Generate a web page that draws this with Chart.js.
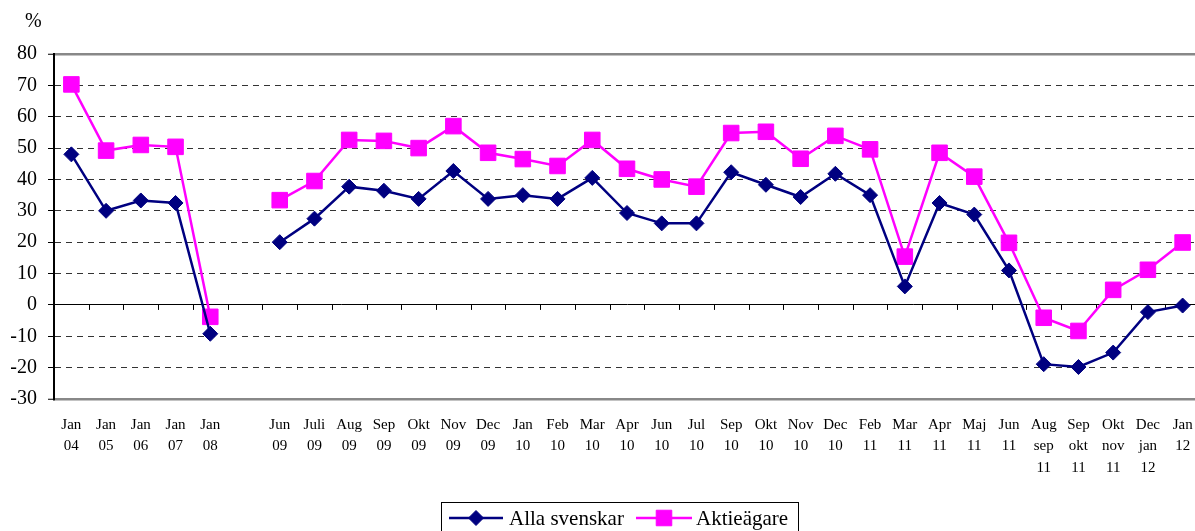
<!DOCTYPE html>
<html>
<head>
<meta charset="utf-8">
<script src="https://cdn.jsdelivr.net/npm/chart.js@4"></script>
<style>
  html, body { margin: 0; padding: 0; background: #fff; overflow: hidden; }
  #wrap { width: 1212px; height: 531px; }
</style>
</head>
<body>
<div id="wrap"><canvas id="chart" width="1212" height="531"></canvas></div>
<script>
const categories = [
    ['Jan', '04'], ['Jan', '05'], ['Jan', '06'], ['Jan', '07'], ['Jan', '08'], '',
    ['Jun', '09'], ['Juli', '09'], ['Aug', '09'], ['Sep', '09'], ['Okt', '09'], ['Nov', '09'], ['Dec', '09'],
    ['Jan', '10'], ['Feb', '10'], ['Mar', '10'], ['Apr', '10'], ['Jun', '10'], ['Jul', '10'], ['Sep', '10'],
    ['Okt', '10'], ['Nov', '10'], ['Dec', '10'], ['Feb', '11'], ['Mar', '11'], ['Apr', '11'], ['Maj', '11'],
    ['Jun', '11'], ['Aug', 'sep', '11'], ['Sep', 'okt', '11'], ['Okt', 'nov', '11'], ['Dec', 'jan', '12'], ['Jan', '12']
];

const allaSvenskar = [
    48, 30, 33.3, 32.5, -9.2, null,
    20, 27.5, 37.7, 36.4, 33.8, 42.7, 33.8,
    35, 33.8, 40.5, 29.3, 26, 26, 42.3,
    38.3, 34.4, 41.8, 35, 5.9, 32.5, 28.8,
    11, -18.9, -19.8, -15.2, -2.3, -0.2
];

const aktieagare = [
    70.3, 49.2, 51, 50.4, -3.8, null,
    33.4, 39.5, 52.6, 52.3, 50, 57, 48.5,
    46.5, 44.3, 52.6, 43.4, 40, 37.7, 54.8,
    55.2, 46.6, 53.9, 49.6, 15.4, 48.5, 40.9,
    19.8, -4.1, -8.3, 4.8, 11.2, 19.9
];

const yMin = -30, yMax = 80, yStep = 10;
const seriesNames = ['Alla svenskar', 'Aktieägare'];

const navy = '#000080';
const magenta = '#FF00FF';
const serif = "'Liberation Serif', 'Times New Roman', serif";

// small ticks hanging under the zero line, at category boundaries
const zeroTicks = {
    id: 'zeroTicks',
    beforeDatasetsDraw(chart) {
        const x = chart.scales.x, y = chart.scales.y;
        const y0 = y.getPixelForValue(0);
        const ctx = chart.ctx;
        ctx.save();
        ctx.strokeStyle = '#000';
        ctx.lineWidth = 1;
        for (let i = 1; i < categories.length; i++) {
            const bx = Math.round((x.getPixelForTick(i - 1) + x.getPixelForTick(i)) / 2) + 0.5;
            ctx.beginPath();
            ctx.moveTo(bx, y0);
            ctx.lineTo(bx, y0 + 5);
            ctx.stroke();
        }
        ctx.restore();
    }
};

// "%" unit label and the boxed legend at the bottom
const extras = {
    id: 'extras',
    afterDraw(chart) {
        const ctx = chart.ctx;
        ctx.save();
        ctx.fillStyle = '#000';
        ctx.font = '20px ' + serif;
        ctx.textBaseline = 'middle';
        ctx.textAlign = 'left';
        ctx.fillText('%', 25, 22);

        // legend box
        ctx.strokeStyle = '#000';
        ctx.lineWidth = 1;
        ctx.strokeRect(441.5, 502.5, 357, 40);

        const ly = 518;
        const items = [
            { x1: 449, x2: 503, tx: 509, ds: chart.data.datasets[0] },
            { x1: 636, x2: 692, tx: 696, ds: chart.data.datasets[1] }
        ];
        items.forEach(it => {
            ctx.strokeStyle = it.ds.borderColor;
            ctx.fillStyle = it.ds.borderColor;
            ctx.lineWidth = 2.5;
            ctx.beginPath();
            ctx.moveTo(it.x1, ly);
            ctx.lineTo(it.x2, ly);
            ctx.stroke();
            ctx.lineWidth = 1;
            Chart.helpers.drawPoint(ctx, {
                pointStyle: it.ds.pointStyle,
                radius: it.ds.pointRadius,
                borderWidth: 1
            }, (it.x1 + it.x2) / 2, ly);
            ctx.fillStyle = '#000';
            ctx.font = '21px ' + serif;
            ctx.fillText(it.ds.label, it.tx, ly + 1);
        });
        ctx.restore();
    }
};

new Chart(document.getElementById('chart'), {
    type: 'line',
    data: {
        labels: categories,
        datasets: [{
            label: seriesNames[0],
            data: allaSvenskar,
            borderColor: navy,
            backgroundColor: navy,
            borderWidth: 2.5,
            pointStyle: 'rectRot',
            pointRadius: 7.5,
            pointBorderWidth: 1,
            pointBackgroundColor: navy,
            pointBorderColor: navy,
            tension: 0,
            spanGaps: false
        }, {
            label: seriesNames[1],
            data: aktieagare,
            borderColor: magenta,
            backgroundColor: magenta,
            borderWidth: 2.5,
            pointStyle: 'rect',
            pointRadius: 11,
            pointBorderWidth: 1,
            pointBackgroundColor: magenta,
            pointBorderColor: magenta,
            tension: 0,
            spanGaps: false
        }]
    },
    options: {
        responsive: false,
        animation: false,
        devicePixelRatio: 1,
        layout: { padding: { top: 54, left: 0, right: 0, bottom: 0 } },
        plugins: { legend: { display: false }, tooltip: { enabled: false } },
        scales: {
            x: {
                offset: true,
                afterFit: s => { s.height = 132; },
                grid: { display: false, drawTicks: false },
                border: { display: false },
                ticks: {
                    autoSkip: false,
                    maxRotation: 0,
                    padding: 15,
                    color: '#000',
                    font: { family: serif, size: 15, lineHeight: 1.43 }
                }
            },
            y: {
                min: yMin,
                max: yMax,
                afterFit: s => { s.width = 54; },
                ticks: {
                    stepSize: yStep,
                    padding: 11,
                    color: '#000',
                    font: { family: serif, size: 20 }
                },
                grid: {
                    tickLength: 6,
                    tickColor: '#000',
                    tickWidth: 1,
                    color: ctx => {
                        const v = ctx.tick && ctx.tick.value;
                        if (v === 0) return '#000';
                        if (v === yMin || v === yMax) return '#888';
                        return '#333';
                    },
                    lineWidth: ctx => {
                        const v = ctx.tick && ctx.tick.value;
                        if (v === yMin || v === yMax) return 2.5;
                        return 1;
                    }
                },
                border: {
                    display: true,
                    color: '#000',
                    width: 2,
                    dash: ctx => {
                        const v = ctx.tick && ctx.tick.value;
                        if (v === 0 || v === yMin || v === yMax) return [];
                        return [6, 5];
                    }
                }
            }
        }
    },
    plugins: [zeroTicks, extras]
});
</script>
</body>
</html>
